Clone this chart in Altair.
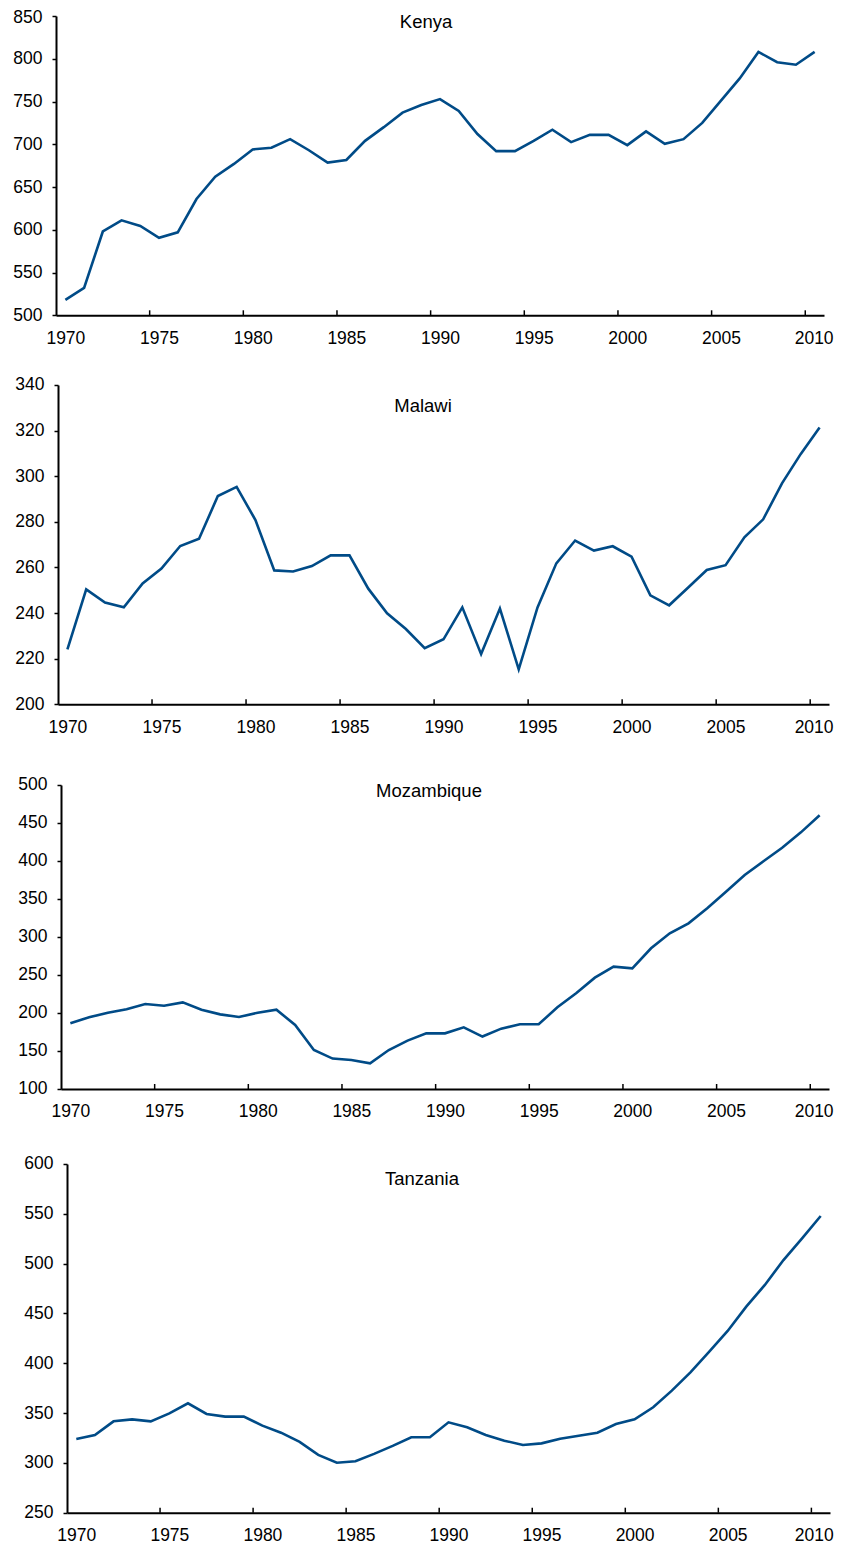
import altair as alt
import pandas as pd

FONT = "Liberation Sans"
LINE_COLOR = "#004B87"

YEARS = list(range(1970, 2011))
LABEL_YEARS = [1970, 1975, 1980, 1985, 1990, 1995, 2000, 2005, 2010]
TICK_YEARS = [1974.5, 1979.5, 1984.5, 1989.5, 1994.5, 1999.5, 2004.5, 2009.5]

KENYA = [518, 532, 598, 611, 604.5, 590.6, 597, 636, 662, 677,
         694, 696, 706, 693, 678.5, 681.6, 704, 720, 737, 746,
         752.8, 739, 712, 692, 692, 704, 717, 702.5, 711, 711,
         699, 715, 700.6, 706, 725, 751, 777, 808, 796, 793, 808]
MALAWI = [224.1, 250.4, 244.6, 242.5, 253, 259.5, 269.4, 272.6, 291.3, 295.3,
          280.8, 258.7, 258.2, 260.6, 265.3, 265.3, 250.7, 239.9, 233, 224.6,
          228.5, 242.5, 222, 242, 215.3, 242.5, 261.8, 271.8, 267.4, 269.3,
          264.7, 247.8, 243.4, 251.1, 258.9, 261, 273.2, 281.1, 296.9, 309.8, 321.4]
MOZAMBIQUE = [186.4, 194.3, 200.4, 204.8, 211.8, 209.6, 214, 204.4, 198.2, 194.7,
              200.4, 204.4, 184.2, 151.3, 140, 138.2, 133.8, 151.3, 163.6, 173.2,
              173.2, 181.1, 169, 179.4, 185.1, 185.1, 207.5, 225.9, 246.5, 261,
              258.8, 285.1, 304.8, 318, 337.7, 359.6, 381.6, 399.6, 417.5, 437.7, 460.1]
TANZANIA = [324, 328, 341.7, 343.7, 341.7, 349.7, 359.8, 349.1, 346.4, 346.4,
            337.4, 330.3, 321, 308, 300.2, 301.6, 309, 317, 325.7, 325.7,
            340.7, 335.7, 328, 322.3, 318, 319.6, 324.3, 327.3, 330.3, 339,
            343.7, 355.8, 372.5, 390.9, 411.3, 432.4, 456.8, 478.6, 503.6, 525.4, 547.8]

KENYA_TICKS = [500, 550, 600, 650, 700, 750, 800, 850]
MALAWI_TICKS = [200, 220, 240, 260, 280, 300, 320, 340]
MOZAMBIQUE_TICKS = [100, 150, 200, 250, 300, 350, 400, 450, 500]
TANZANIA_TICKS = [250, 300, 350, 400, 450, 500, 550, 600]

TOTAL_W = 774
TOTAL_H = 1496.7


def panel(name, values, yticks, xr, yr, tx, ty, last_shift, top_shift):
    """xr: horizontal pixel range of the panel; yr: (top, bottom) pixel range."""
    top, bottom = yr
    df = pd.DataFrame({"year": YEARS, "value": values})
    tick_df = pd.DataFrame({"year": TICK_YEARS})
    title_df = pd.DataFrame({"label": [name]})
    xenc = alt.X(
        "year:Q",
        scale=alt.Scale(domain=[1969.5, 2010.5], range=xr, nice=False, zero=False),
        axis=alt.Axis(values=LABEL_YEARS, format="d", title=None, ticks=False,
                      tickSize=0, labelPadding=14, orient="bottom",
                      offset=bottom - TOTAL_H, labelFlush=False, labelOverlap=False,
                      labelOffset={"condition": {"test": "datum.value == 2010",
                                                 "value": last_shift},
                                   "value": 0}),
    )
    yenc = alt.Y(
        "value:Q",
        scale=alt.Scale(domain=[yticks[0], yticks[-1]], range=[bottom, top],
                        nice=False, zero=False),
        axis=alt.Axis(values=yticks, title=None, tickSize=4, labelPadding=10,
                      orient="left", offset=-xr[0], labelOverlap=False, labelFlush=False,
                      labelOffset={"condition": {"test": f"datum.value == {yticks[-1]}",
                                                 "value": top_shift},
                                   "value": 0}),
    )
    line = alt.Chart(df).mark_line(color=LINE_COLOR, strokeWidth=2.6).encode(x=xenc, y=yenc)
    ticks = alt.Chart(tick_df).mark_rule(color="black", strokeWidth=1.5).encode(
        x=xenc, y=alt.value(bottom - 5), y2=alt.value(bottom)
    )
    title = alt.Chart(title_df).mark_text(
        font=FONT, fontSize=18.5, color="black", align="center", baseline="alphabetic"
    ).encode(text="label:N", x=alt.value(tx), y=alt.value(ty))
    return alt.layer(line, ticks, title)


k = panel("Kenya", KENYA, KENYA_TICKS, [0, 768], (0, 299.3), 370, 12, -1, 2)
m = panel("Malawi", MALAWI, MALAWI_TICKS, [2, 773], (369, 688.3), 367, 396, -6, 0)
z = panel("Mozambique", MOZAMBIQUE, MOZAMBIQUE_TICKS, [5, 773], (769, 1073), 373, 781, -6, 0)
t = panel("Tanzania", TANZANIA, TANZANIA_TICKS, [11, 774], (1148, 1496.7), 366, 1169, -7, 0)

chart = (
    alt.layer(k, m, z, t)
    .resolve_scale(x="independent", y="independent")
    .resolve_axis(x="independent", y="independent")
    .properties(
        width=TOTAL_W,
        height=TOTAL_H,
        autosize=alt.AutoSizeParams(type="none"),
        padding={"left": 48, "top": 8, "right": 5, "bottom": 34},
    )
    .configure_view(stroke=None)
    .configure_axis(grid=False, domainColor="black", domainWidth=2, tickColor="black",
                    tickWidth=1.5, labelColor="black", labelFont=FONT, labelFontSize=17.5)
)

chart.save("out.html", embed_options={"renderer": "svg", "actions": False})
